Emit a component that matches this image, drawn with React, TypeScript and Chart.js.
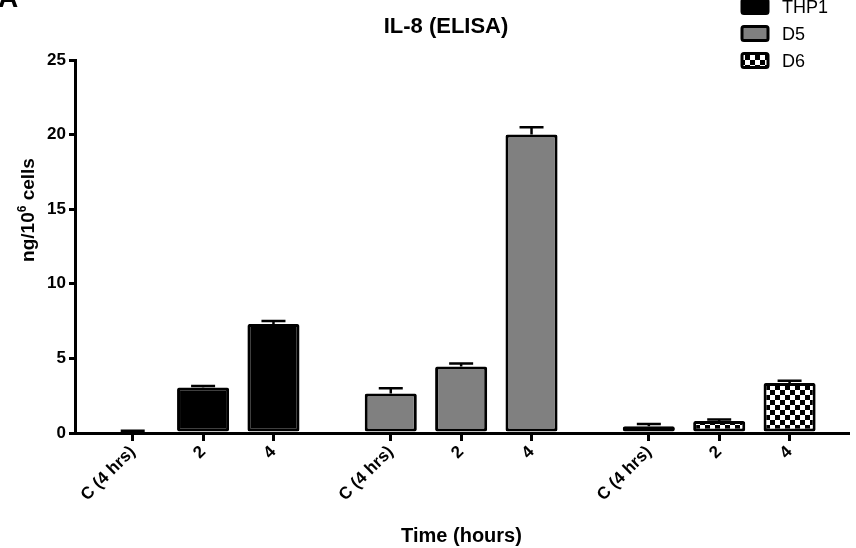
import React, { useEffect, useRef } from 'react';
import { Chart, registerables } from 'chart.js';

Chart.register(...registerables);

// values (ng/10^6 cells), SEM as upward error bars
const groups = ['THP1', 'D5', 'D6'];
const timepoints = ['C (4 hrs)', '2', '4'];
const thp1Values = [0.1, 3.05, 7.3];
const thp1Errors = [0.05, 0.1, 0.2];
const d5Values = [2.65, 4.45, 20.0];
const d5Errors = [0.35, 0.2, 0.5];
const d6Values = [0.45, 0.8, 3.35];
const d6Errors = [0.15, 0.1, 0.15];
const yTicks = [0, 5, 10, 15, 20, 25];

const FONT = '"Liberation Sans", Arial, sans-serif';
const GROUP_GAP = 2 / 3; // extra space between groups, in bar slots

const xPos = (g: number, i: number) => g * (timepoints.length + GROUP_GAP) + i;
const xTickValues = groups.flatMap((_, g) => timepoints.map((_, i) => xPos(g, i)));
const xTickLabels = groups.flatMap(() => timepoints);

function makeChecker(ctx: CanvasRenderingContext2D) {
  const c = document.createElement('canvas');
  c.width = 10;
  c.height = 10;
  const p = c.getContext('2d')!;
  p.fillStyle = '#fff';
  p.fillRect(0, 0, 10, 10);
  p.fillStyle = '#000';
  p.fillRect(0, 0, 5, 5);
  p.fillRect(5, 5, 5, 5);
  return ctx.createPattern(c, 'repeat')!;
}

const errorBars = {
  id: 'errorBars',
  afterDatasetsDraw(chart: any) {
    const { ctx } = chart;
    const y = chart.scales.y;
    ctx.save();
    ctx.strokeStyle = '#000';
    ctx.lineWidth = 2.5;
    chart.data.datasets.forEach((ds: any, di: number) => {
      chart.getDatasetMeta(di).data.forEach((bar: any, i: number) => {
        const top = y.getPixelForValue(ds.data[i].y + ds.errors[i]);
        ctx.beginPath();
        ctx.moveTo(bar.x, bar.y);
        ctx.lineTo(bar.x, top);
        ctx.moveTo(bar.x - 12, top);
        ctx.lineTo(bar.x + 12, top);
        ctx.stroke();
      });
    });
    ctx.restore();
  },
};

const decorations = {
  id: 'decorations',
  afterDraw(chart: any) {
    const { ctx } = chart;
    ctx.save();
    ctx.fillStyle = '#000';

    // panel letter (cut off at the top in the original)
    ctx.font = `bold 28px ${FONT}`;
    ctx.textAlign = 'left';
    ctx.textBaseline = 'alphabetic';
    ctx.fillText('A', -2, 7);

    // title
    ctx.font = `bold 22px ${FONT}`;
    ctx.textAlign = 'center';
    ctx.fillText('IL-8 (ELISA)', 446, 33);

    // y axis title with superscript
    ctx.save();
    ctx.translate(34, 210);
    ctx.rotate(-Math.PI / 2);
    ctx.textAlign = 'left';
    const big = `bold 19px ${FONT}`;
    const small = `bold 12px ${FONT}`;
    ctx.font = big;
    const w1 = ctx.measureText('ng/10').width;
    const w3 = ctx.measureText(' cells').width;
    ctx.font = small;
    const w2 = ctx.measureText('6').width;
    let x = -(w1 + w2 + w3) / 2;
    ctx.font = big;
    ctx.fillText('ng/10', x, 0);
    x += w1;
    ctx.font = small;
    ctx.fillText('6', x, -8);
    x += w2;
    ctx.font = big;
    ctx.fillText(' cells', x, 0);
    ctx.restore();

    // legend
    ctx.font = `18px ${FONT}`;
    ctx.textAlign = 'left';
    chart.data.datasets.forEach((ds: any, i: number) => {
      const top = -2 + i * 27;
      ctx.beginPath();
      ctx.roundRect(742, top + 1.5, 26, 14, 2);
      ctx.fillStyle = ds.backgroundColor;
      ctx.fill();
      ctx.lineWidth = 3;
      ctx.strokeStyle = '#000';
      ctx.stroke();
      ctx.fillStyle = '#000';
      ctx.fillText(ds.label, 782, top + 14.5);
    });
    ctx.restore();
  },
};

export default function App() {
  const canvasRef = useRef<HTMLCanvasElement | null>(null);

  useEffect(() => {
    if (!canvasRef.current) return;
    const ctx = canvasRef.current.getContext('2d');
    if (!ctx) return;

    Chart.defaults.font.family = FONT;
    Chart.defaults.color = '#000';

    const checker = makeChecker(ctx);
    const series = [
      { values: thp1Values, errors: thp1Errors, fill: '#000000' },
      { values: d5Values, errors: d5Errors, fill: '#808080' },
      { values: d6Values, errors: d6Errors, fill: checker },
    ];

    const chart = new Chart(ctx, {
      type: 'bar',
      data: {
        datasets: series.map((s, g) => ({
          label: groups[g],
          data: s.values.map((v, i) => ({ x: xPos(g, i), y: v })),
          errors: s.errors,
          backgroundColor: s.fill,
          borderColor: '#000',
          borderWidth: 3,
          borderRadius: 2,
          borderSkipped: false,
          categoryPercentage: 1,
          barPercentage: 0.74,
        })) as any,
      },
      options: {
        animation: false,
        responsive: true,
        maintainAspectRatio: false,
        layout: { padding: { top: 60, right: 8, left: 0, bottom: 0 } },
        plugins: {
          legend: { display: false },
          title: { display: false },
          tooltip: { enabled: false },
        },
        scales: {
          x: {
            type: 'linear',
            stacked: true,
            offset: false,
            min: -0.82,
            max: xPos(groups.length - 1, timepoints.length - 1) + 0.83,
            afterBuildTicks: (scale: any) => {
              scale.ticks = xTickValues.map((value) => ({ value }));
            },
            afterFit: (scale: any) => {
              scale.height = 115;
            },
            ticks: {
              autoSkip: false,
              minRotation: 45,
              maxRotation: 45,
              padding: 1,
              font: { size: 17, weight: 'bold' },
              callback: (_v: any, index: number) => xTickLabels[index],
            },
            grid: {
              offset: false,
              drawOnChartArea: false,
              drawTicks: true,
              tickLength: 8,
              lineWidth: 3,
              color: '#000',
            },
            border: { display: true, width: 3, color: '#000' },
            title: {
              display: true,
              text: 'Time (hours)',
              font: { size: 20, weight: 'bold' },
              padding: { top: 11, bottom: 0 },
            },
          },
          y: {
            min: 0,
            max: 25,
            afterBuildTicks: (scale: any) => {
              scale.ticks = yTicks.map((value) => ({ value }));
            },
            afterFit: (scale: any) => {
              scale.width = 75;
            },
            ticks: {
              padding: 3,
              font: { size: 17, weight: 'bold' },
            },
            grid: {
              drawOnChartArea: false,
              drawTicks: true,
              tickLength: 6,
              lineWidth: 3,
              color: '#000',
            },
            border: { display: true, width: 3, color: '#000' },
          },
        },
      } as any,
      plugins: [errorBars, decorations],
    });

    return () => {
      chart.destroy();
    };
  }, []);

  return (
    <div style={{ position: 'absolute', left: 0, top: 0, width: 856, height: 548, background: '#fff' }}>
      <canvas ref={canvasRef} role="img" aria-label="IL-8 (ELISA) bar chart"></canvas>
    </div>
  );
}
